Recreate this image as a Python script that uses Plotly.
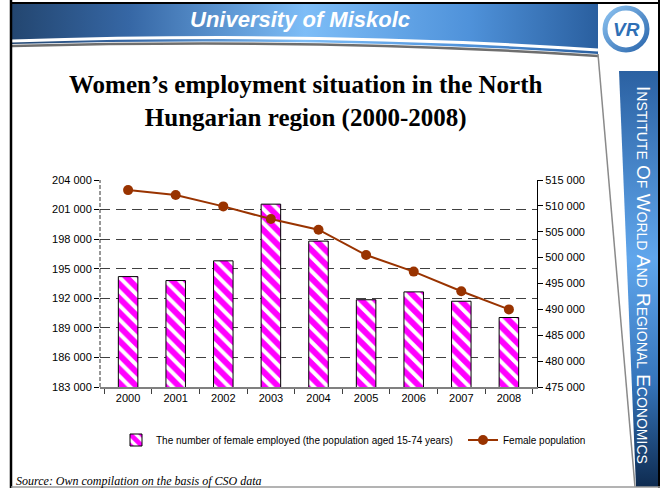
import base64
import plotly.graph_objects as go

years = ["2000", "2001", "2002", "2003", "2004", "2005", "2006", "2007", "2008"]
employed = [194200, 193800, 195800, 201550, 197800, 191850, 192650, 191700, 190050]
population = [513050, 512100, 509900, 507450, 505400, 500500, 497300, 493500, 490000]

W, H = 667, 488
L, R, T, B = 100, 130, 180, 101
PW, PH = W - L - R, H - T - B


def px(x):
    return (x - L) / PW


def py(y):
    return (H - B - y) / PH


# slide background: frame, header band, side band, logo ring
svg = """<svg xmlns='http://www.w3.org/2000/svg' width='667' height='488' viewBox='0 0 667 488'>
<defs>
<linearGradient id='h' x1='0' x2='1' y1='0' y2='0'>
<stop offset='0' stop-color='#234670'/>
<stop offset='0.2' stop-color='#3667a5'/>
<stop offset='0.5' stop-color='#7dbdf7'/>
<stop offset='0.78' stop-color='#4f92da'/>
<stop offset='1' stop-color='#2a5f9f'/>
</linearGradient>
<linearGradient id='v' x1='0' x2='0' y1='0' y2='1'>
<stop offset='0' stop-color='#2b61a2'/>
<stop offset='0.45' stop-color='#60a6ec'/>
<stop offset='0.75' stop-color='#3574ba'/>
<stop offset='1' stop-color='#0e2b50'/>
</linearGradient>
<linearGradient id='r' x1='0' x2='1' y1='0' y2='1'>
<stop offset='0' stop-color='#8cc2f0'/>
<stop offset='1' stop-color='#2b67ad'/>
</linearGradient>
</defs>
<rect width='667' height='488' fill='white'/>
<path d='M12,4 H598 V54 Q330,36 12,44 Z' fill='url(#h)'/>
<path d='M12,41 Q320,31 598,50' stroke='white' stroke-width='3' fill='none'/>
<path d='M12,46 Q330,38 598,56' stroke='#6e6e6e' stroke-width='2.5' fill='none'/>
<path d='M619,71 L658,71 L658,487 L636,487 Z' fill='url(#v)'/>
<path d='M598,54 L635,487' stroke='#8a8a8a' stroke-width='1.5' fill='none'/>
<circle cx='626' cy='29' r='21' fill='white' stroke='url(#r)' stroke-width='5'/>
<line x1='11' y1='0' x2='11' y2='488' stroke='black' stroke-width='2.5'/>
<line x1='11' y1='3' x2='660' y2='3' stroke='black' stroke-width='2'/>
<line x1='659' y1='0' x2='659' y2='488' stroke='black' stroke-width='2'/>
<line x1='11' y1='487' x2='660' y2='487' stroke='#9a9a9a' stroke-width='1.5'/>
</svg>"""
bg = "data:image/svg+xml;base64," + base64.b64encode(svg.encode()).decode()

fig = go.Figure()

fig.add_trace(go.Bar(
    x=years, y=employed,
    name="The number of female employed (the population aged 15-74 years)",
    legend="legend",
    marker=dict(
        color="white",
        line=dict(color="black", width=1),
        pattern=dict(shape="\\", fgcolor="#ff00ff", bgcolor="white", fgopacity=1,
                     size=10, solidity=0.6),
    ),
))

fig.add_trace(go.Scatter(
    x=years, y=population, yaxis="y2",
    name="Female population",
    legend="legend2",
    mode="lines+markers",
    line=dict(color="#993300", width=2),
    marker=dict(color="#993300", size=10),
))

tickfont = dict(family="Liberation Sans, Arial", size=11, color="black")
legfont = dict(family="Liberation Sans, Arial", size=10, color="black")

fig.update_layout(
    width=W, height=H,
    margin=dict(l=L, r=R, t=T, b=B, autoexpand=False),
    paper_bgcolor="white",
    plot_bgcolor="white",
    separators=". ",
    bargap=0.59,
    showlegend=True,
    legend=dict(
        xref="container", yref="container", x=116 / W, y=1 - 440 / H,
        xanchor="left", yanchor="middle", font=legfont, itemwidth=30,
        bgcolor="rgba(0,0,0,0)",
    ),
    legend2=dict(
        xref="container", yref="container", x=463 / W, y=1 - 440 / H,
        xanchor="left", yanchor="middle", font=legfont, itemwidth=30,
        bgcolor="rgba(0,0,0,0)",
    ),
    xaxis=dict(
        type="category",
        showline=True, linecolor="#808080", linewidth=1.5,
        ticks="outside", ticklen=5, tickcolor="#404040", tickson="boundaries",
        tickfont=tickfont, showgrid=False,
    ),
    yaxis=dict(
        range=[183000, 204000], dtick=3000, tickformat=",d",
        showline=False,
        ticks="outside", ticklen=5, tickcolor="black",
        tickfont=tickfont,
        showgrid=True, gridcolor="#404040", gridwidth=1, griddash="10px,6px",
        zeroline=False,
    ),
    yaxis2=dict(
        overlaying="y", side="right",
        range=[475000, 515000], dtick=5000, tickformat=",d",
        showline=True, linecolor="black", linewidth=1,
        ticks="outside", ticklen=5, tickcolor="black",
        tickfont=tickfont, showgrid=False, zeroline=False,
    ),
    images=[dict(
        source=bg, xref="paper", yref="paper",
        x=px(0), y=py(0), sizex=W / PW, sizey=H / PH,
        xanchor="left", yanchor="top", sizing="stretch", layer="below",
    )],
)

# dashed left axis
fig.add_shape(type="line", xref="paper", yref="paper", x0=0, x1=0, y0=0, y1=1,
              line=dict(color="#303030", width=1, dash="4px,2px"))


def note(text, x, y, size, color="black", family="Liberation Sans, Arial", xanchor="center", **kw):
    fig.add_annotation(text=text, x=px(x), y=py(y), xref="paper", yref="paper",
                       xanchor=xanchor, yanchor="middle", showarrow=False,
                       font=dict(family=family, size=size, color=color), **kw)


small = "font-size:14px"
words = ["INSTITUTE", "OF", "WORLD", "AND", "REGIONAL", "ECONOMICS"]
side_text = " ".join(w[0] + f"<span style='{small}'>{w[1:]}</span>" for w in words)

note("<b><i>University of Miskolc</i></b>", 300, 19, 22, "white")
note("<b><i>VR</i></b>", 626, 29, 19, "#2f6fb5")
note(side_text, 644, 275, 19, "white", textangle=90)
note("<b>Women’s employment situation in the North<br>Hungarian region (2000-2008)</b>",
     305, 101, 25, family="Liberation Serif, Times New Roman")
note("<i>Source: Own compilation on the basis of CSO data</i>", 14, 481, 12,
     family="Liberation Serif, Times New Roman", xanchor="left")

fig.write_html("out.html", config={"displayModeBar": False},
               post_script="document.body.style.margin='0';")
